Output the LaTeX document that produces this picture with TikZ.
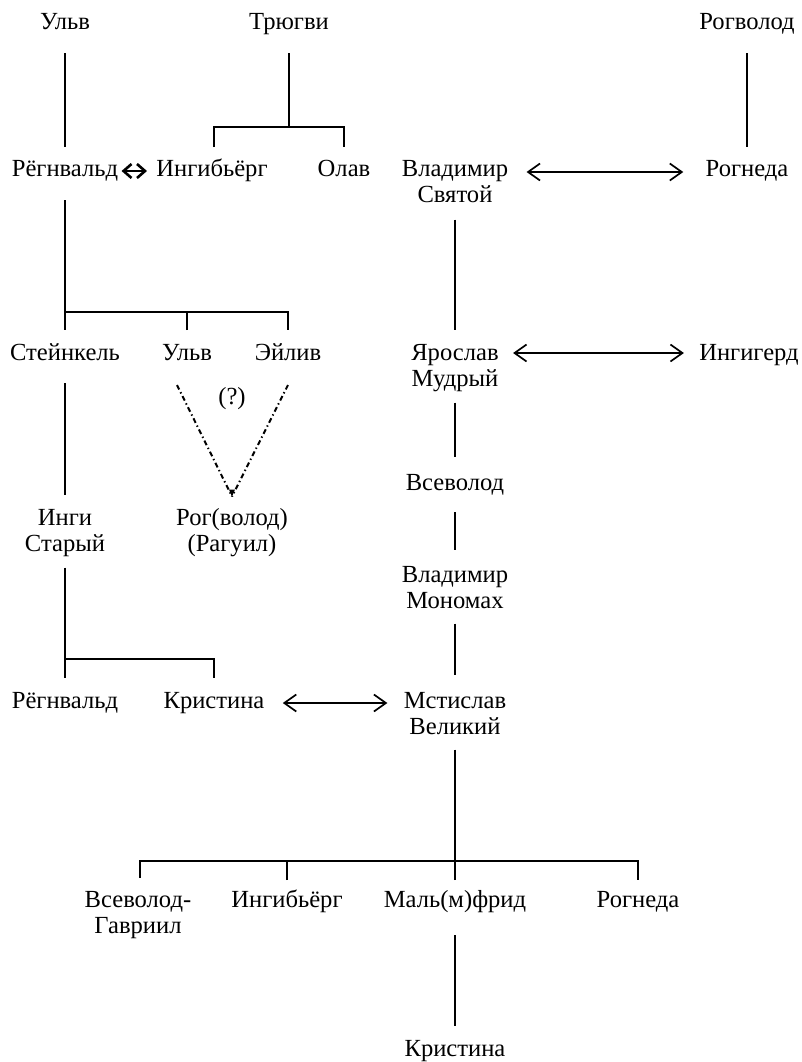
\documentclass[tikz,border=0pt]{standalone}
\usepackage{fontspec}
\setmainfont{Liberation Serif}
\usetikzlibrary{arrows.meta,calc}
\tikzset{
  imya/.style={anchor=base,inner sep=0pt,align=center,font=\fontsize{12.3}{13}\selectfont},
  lin/.style={line width=0.95pt},
  tonk/.style={line width=0.55pt},
  brak/.style={{Straight Barb[length=6pt,width=8.5pt]}-{Straight Barb[length=6pt,width=8.5pt]},line width=0.85pt},
  brakm/.style={{Straight Barb[length=4pt,width=7pt]}-{Straight Barb[length=4pt,width=7pt]},line width=1.3pt},
  strih/.style={line width=1pt,dash pattern=on 2.5pt off 1.5pt on 0.7pt off 1.5pt},
}

\begin{document}
\begin{tikzpicture}[x=0.5pt,y=-0.5pt]
  \useasboundingbox (0,0) rectangle (802,1062);
  % first row
  \node[imya] (u1) at (65,29) {Ульв};
  \node[imya] (tr) at (289,29) {Трюгви};
  \node[imya] (rgv) at (747,29) {Рогволод};
  % second row (two-line names sit on their last line)
  \node[imya] (rg1) at (65,176) {Рёгнвальд};
  \node[imya] (ing1) at (212,176) {Ингибьёрг};
  \node[imya] (olav) at (344,176) {Олав};
  \node[imya] (vlad) at (455,202) {Владимир\\Святой};
  \node[imya] (rogn1) at (747,176) {Рогнеда};
  % third row
  \node[imya] (stk) at (65,360) {Стейнкель};
  \node[imya] (ul2) at (187,360) {Ульв};
  \node[imya] (eyl) at (288,360) {Эйлив};
  \node[imya] (yar) at (455,386) {Ярослав\\Мудрый};
  \node[imya] (ingg) at (749,360) {Ингигерд};
  \node[imya] (q) at (232,404) {(?)};
  \node[imya] (ingi) at (65,551) {Инги\\Старый};
  \node[imya] (rog) at (232,551) {Рог(волод)\\(Рагуил)};
  \node[imya] (vsev) at (455,490) {Всеволод};
  \node[imya] (mono) at (455,608) {Владимир\\Мономах};
  \node[imya] (rg2) at (65,708) {Рёгнвальд};
  \node[imya] (kris1) at (214,708) {Кристина};
  \node[imya] (mst) at (455,734) {Мстислав\\Великий};
  % last rows
  \node[imya] (vg) at (138,933) {Всеволод-\\Гавриил};
  \node[imya] (ing2) at (287,907) {Ингибьёрг};
  \node[imya] (malm) at (455,907) {Маль(м)фрид};
  \node[imya] (rogn2) at (638,907) {Рогнеда};
  \node[imya] (kris2) at (455,1056) {Кристина};

  % branch points
  \coordinate (trk) at ($(tr.base)+(0,98)$);
  \coordinate (rgk) at ($(rg1.base)+(0,136)$);
  \coordinate (ink) at ($(rg2.base)+(0,-49)$);
  \coordinate (mk) at ($(malm.base)+(0,-46)$);
  \coordinate (apex) at ($(rog.north)+(0,-11)$);

  % lines of descent
  \draw[lin] ($(u1.base)+(0,24)$) -- ($(rg1.base)+(0,-29)$);
  \draw[lin] ($(tr.base)+(0,24)$) -- (trk);
  \draw[lin] ($(ing1.base)+(2,-29)$) |- (trk) -| ($(olav.base)+(0,-29)$);
  \draw[lin] ($(rgv.base)+(0,24)$) -- ($(rogn1.base)+(0,-29)$);
  \draw[lin] ($(rg1.base)+(0,24)$) -- (rgk) -| ($(eyl.base)+(0,-30)$);
  \draw[tonk] (rgk) -- ($(stk.base)+(0,-30)$);
  \draw[tonk] ($(ul2.base)+(0,-30)$) -- (ul2.base|-rgk);
  \draw[lin] ($(stk.base)+(0,23)$) -- ($(ingi.north)+(0,-14)$);
  \draw[lin] ($(ingi.south)+(0,11)$) -- (ink) -| ($(kris1.base)+(0,-30)$);
  \draw[tonk] (ink) -- ($(rg2.base)+(0,-30)$);
  \draw[lin] ($(vlad.south)+(0,17)$) -- ($(yar.north)+(0,-14)$);
  \draw[lin] ($(yar.south)+(0,11)$) -- ($(vsev.north)+(0,-17)$);
  \draw[lin] ($(vsev.base)+(0,22)$) -- ($(mono.north)+(0,-16)$);
  \draw[lin] ($(mono.south)+(0,15)$) -- ($(mst.north)+(0,-17)$);
  \draw[lin] ($(mst.south)+(0,15)$) -- (mk);
  \draw[lin] ($(vg.north)+(2,-13)$) |- (mk) -| ($(rogn2.base)+(0,-27)$);
  \draw[tonk] ($(ing2.base)+(0,-27)$) -- (ing2.base|-mk);
  \draw[tonk] ($(malm.base)+(0,-27)$) -- (mk);
  \draw[lin] ($(malm.base)+(0,28)$) -- ($(kris2.base)+(0,-30)$);

  % uncertain descent
  \draw[strih] ($(ul2.base)+(-10,25)$) -- (apex);
  \draw[strih] ($(eyl.base)+(0,25)$) -- (apex);
  \fill (apex) -- ($(apex)+(-3,-7)$) -- ($(apex)+(3,-7)$) -- cycle;

  % marriages
  \draw[brakm] ($(rg1.base east)+(3,-5)$) -- ($(ing1.base west)+(-9,-5)$);
  \draw[brak] ($(vlad.east|-rogn1.base)+(18,-4)$) -- ($(rogn1.base west)+(-22,-4)$);
  \draw[brak] ($(yar.east|-ingg.base)+(14,-7)$) -- ($(ingg.base west)+(-15,-7)$);
  \draw[brak] ($(kris1.base east)+(18,-5)$) -- ($(mst.west|-kris1.base)+(-16,-5)$);
\end{tikzpicture}
\end{document}
